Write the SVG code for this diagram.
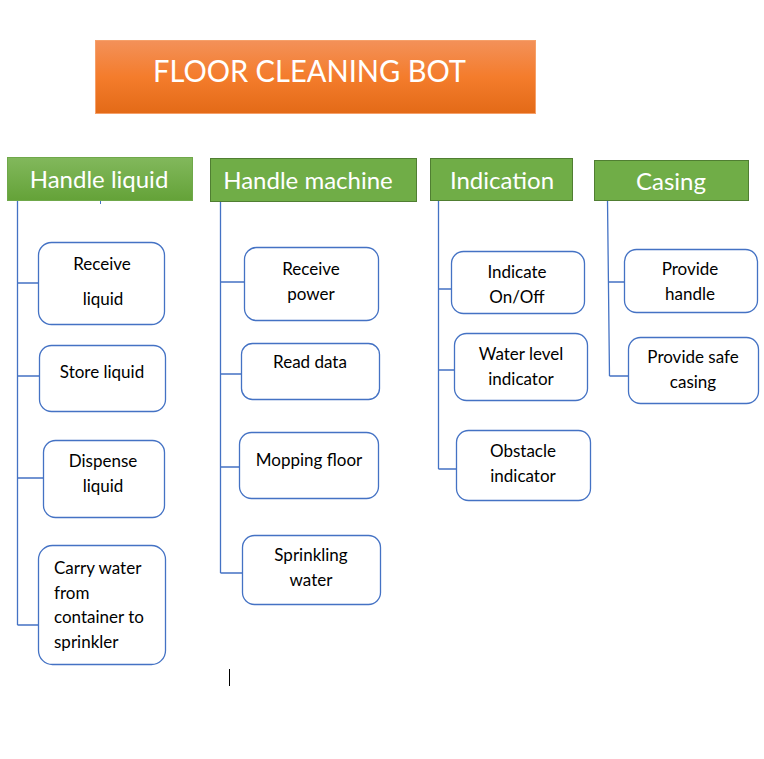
<svg xmlns="http://www.w3.org/2000/svg" width="764" height="759" viewBox="0 0 764 759">
<defs>
<linearGradient id="gOrange" x1="0" y1="0" x2="0" y2="1">
<stop offset="0" stop-color="#F39159"/>
<stop offset="0.5" stop-color="#F47C2C"/>
<stop offset="1" stop-color="#E36A17"/>
</linearGradient>
<linearGradient id="gGreen" x1="0" y1="0" x2="0" y2="1">
<stop offset="0" stop-color="#82B85C"/>
<stop offset="1" stop-color="#64A238"/>
</linearGradient>
</defs>
<style>
.hdr{fill:#70AD47;stroke:#507E32;stroke-width:1}
.htxt{font-family:Lato,"Liberation Sans",sans-serif;font-size:24px;fill:#FFFFFF}
.box{fill:#FFFFFF;stroke:#4472C4;stroke-width:1.3}
.txt{font-family:Lato,"Liberation Sans",sans-serif;font-size:17px;fill:#000000;text-anchor:middle}
.ltxt{font-family:Lato,"Liberation Sans",sans-serif;font-size:17px;fill:#000000}
.con{stroke:#4472C4;stroke-width:1.3;fill:none}
</style>
<rect width="764" height="759" fill="#FFFFFF"/>

<g id="title">
<rect x="95.5" y="40.5" width="440" height="73" fill="url(#gOrange)" stroke="#F6A069" stroke-width="1"/>
<text x="153" y="82" font-family="Lato,'Liberation Sans',sans-serif" font-size="30.5" fill="#FFFFFF" textLength="313" lengthAdjust="spacingAndGlyphs">FLOOR CLEANING BOT</text>
</g>

<g id="connectors">
<path class="con" d="M17.5 201 V625 M17.5 283 H39 M17.5 376 H40 M17.5 478 H43 M17.5 625 H38"/>
<path class="con" d="M220.5 201 V573 M220.5 282 H245 M220.5 374 H241 M220.5 467 H240 M220.5 573 H243"/>
<path class="con" d="M438.5 200 V469 M438.5 289 H452 M438.5 370 H454 M438.5 469 H457"/>
<path class="con" d="M607.5 200 L609.5 376 M608.5 282 H625 M609.5 376 H629"/>
<line x1="100.5" y1="201" x2="100.5" y2="204" stroke="#4472C4" stroke-width="1"/>
<line x1="229.5" y1="669" x2="229.5" y2="686" stroke="#000000" stroke-width="1"/>
</g>

<g id="hdr-liquid">
<rect x="7.5" y="157.5" width="185" height="43" fill="url(#gGreen)" stroke="#6FA84A" stroke-width="1"/>
<text class="htxt" x="99" y="188" text-anchor="middle">Handle liquid</text>
</g>
<g id="hdr-machine">
<rect class="hdr" x="210.5" y="158.5" width="206" height="43"/>
<text class="htxt" x="308" y="189" text-anchor="middle">Handle machine</text>
</g>
<g id="hdr-indication">
<rect class="hdr" x="430.5" y="158.5" width="142" height="42"/>
<text class="htxt" x="502" y="189" text-anchor="middle">Indication</text>
</g>
<g id="hdr-casing">
<rect class="hdr" x="594.5" y="160.5" width="154" height="40"/>
<text class="htxt" x="671" y="190" text-anchor="middle">Casing</text>
</g>

<g id="receive-liquid">
<rect class="box" x="38.5" y="242.5" width="126" height="82" rx="13"/>
<text class="txt" x="102" y="270">Receive</text>
<text class="txt" x="103" y="305">liquid</text>
</g>
<g id="store-liquid">
<rect class="box" x="39.5" y="345.5" width="126" height="66" rx="12"/>
<text class="txt" x="102" y="378">Store liquid</text>
</g>
<g id="dispense-liquid">
<rect class="box" x="43.5" y="440.5" width="121" height="77" rx="12"/>
<text class="txt" x="103" y="467">Dispense</text>
<text class="txt" x="103" y="492">liquid</text>
</g>
<g id="carry-water">
<rect class="box" x="38.5" y="545.5" width="127" height="119" rx="14"/>
<text class="ltxt" x="54" y="574">Carry water</text>
<text class="ltxt" x="54" y="599">from</text>
<text class="ltxt" x="54" y="623">container to</text>
<text class="ltxt" x="54" y="648">sprinkler</text>
</g>

<g id="receive-power">
<rect class="box" x="244.5" y="247.5" width="134" height="73" rx="12"/>
<text class="txt" x="311" y="275">Receive</text>
<text class="txt" x="311" y="300">power</text>
</g>
<g id="read-data">
<rect class="box" x="241.5" y="343.5" width="138" height="56" rx="11"/>
<text class="txt" x="310" y="368">Read data</text>
</g>
<g id="mopping-floor">
<rect class="box" x="239.5" y="432.5" width="139" height="66" rx="12"/>
<text class="txt" x="309" y="466">Mopping floor</text>
</g>
<g id="sprinkling-water">
<rect class="box" x="242.5" y="535.5" width="138" height="69" rx="12"/>
<text class="txt" x="311" y="561">Sprinkling</text>
<text class="txt" x="311" y="586">water</text>
</g>

<g id="indicate-onoff">
<rect class="box" x="451.5" y="251.5" width="133" height="62" rx="12"/>
<text class="txt" x="517" y="278">Indicate</text>
<text class="txt" x="517" y="303">On/Off</text>
</g>
<g id="water-level">
<rect class="box" x="454.5" y="333.5" width="133" height="67" rx="12"/>
<text class="txt" x="521" y="360">Water level</text>
<text class="txt" x="521" y="385">indicator</text>
</g>
<g id="obstacle">
<rect class="box" x="456.5" y="430.5" width="134" height="70" rx="12"/>
<text class="txt" x="523" y="457">Obstacle</text>
<text class="txt" x="523" y="482">indicator</text>
</g>

<g id="provide-handle">
<rect class="box" x="624.5" y="249.5" width="133" height="63" rx="12"/>
<text class="txt" x="690" y="275">Provide</text>
<text class="txt" x="690" y="300">handle</text>
</g>
<g id="provide-casing">
<rect class="box" x="628.5" y="337.5" width="130" height="66" rx="12"/>
<text class="txt" x="693" y="363">Provide safe</text>
<text class="txt" x="693" y="388">casing</text>
</g>
</svg>
